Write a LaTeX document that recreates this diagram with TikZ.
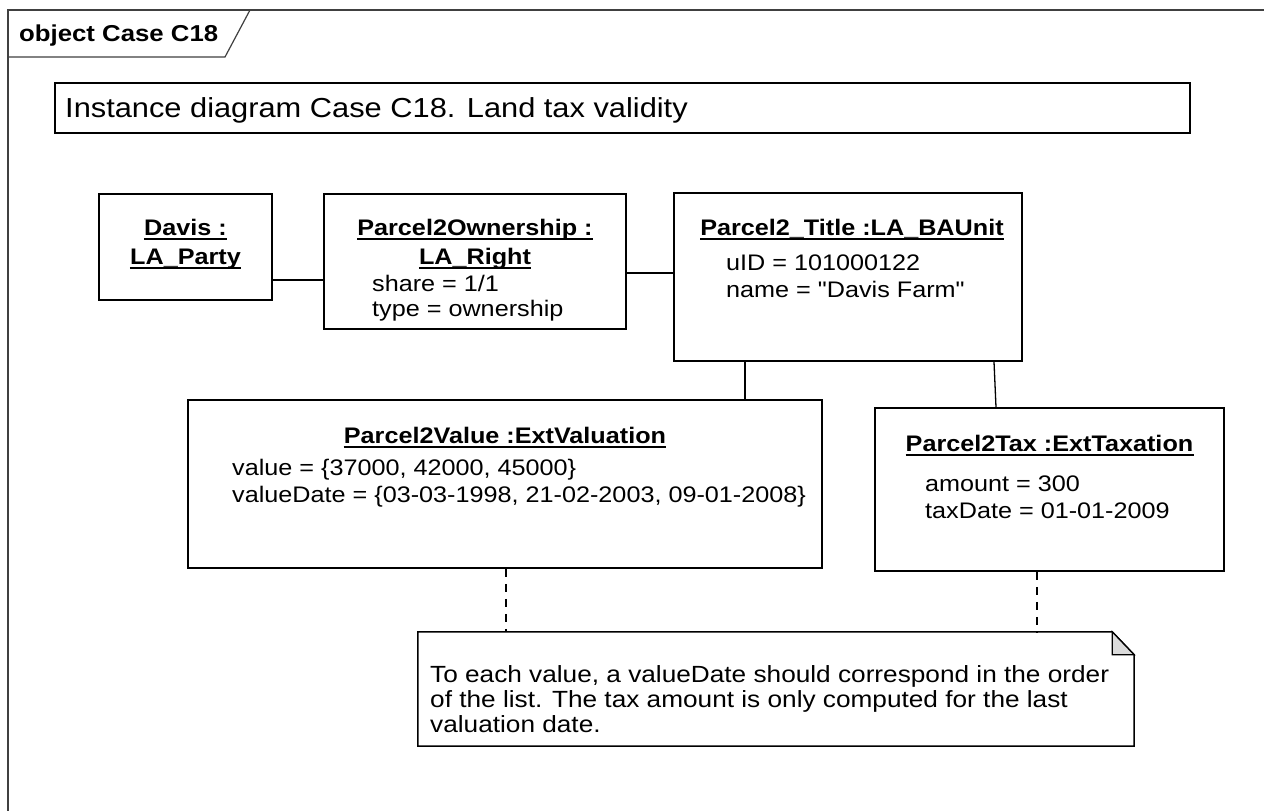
\documentclass[tikz,border=0pt]{standalone}
\usepackage{fontspec}
\setmainfont{Liberation Sans}[FakeStretch=1.12, Ligatures=TeXOff]
\begin{document}
\begin{tikzpicture}[x=1pt,y=-1pt,
  objbox/.style={draw=black, line width=1.5pt, inner sep=0pt, rectangle},
  conn/.style={draw=black, line width=1.3pt},
  notelink/.style={draw=black, line width=1.3pt, dash pattern=on 8pt off 7pt},
  hdr/.style={anchor=base, inner sep=0pt, font=\bfseries\fontsize{22.5}{26}\selectfont},
  attr/.style={anchor=base west, inner sep=0pt, font=\fontsize{22.5}{26}\selectfont},
  notetxt/.style={anchor=base west, inner sep=0pt, font=\fontsize{23.4}{26}\selectfont},
  uline/.style={draw=black, line width=1.4pt}]
\useasboundingbox (0,0) rectangle (1264,811);
\fill[white] (0,0) rectangle (1264,811);

% frame
\draw[line width=1.2pt, draw=black!75] (8,811) -- (8,10) -- (1264,10);
\draw[line width=1.2pt, draw=black!75] (8,57) -- (225,57) -- (250,10);
\node[anchor=base west, inner sep=0pt, font=\bfseries\fontsize{23}{27}\selectfont] (frametitle) at (19,41) {object Case C18};

% diagram title
\node[objbox, line width=1.3pt, minimum width=1135pt, minimum height=50pt] (caption) at (622.5,108) {};
\node[anchor=base west, inner sep=0pt, font=\fontsize{27.5}{30}\selectfont] (captiontext) at (65,117) {Instance diagram Case C18. Land tax validity};

% object boxes
\node[objbox, minimum width=173pt, minimum height=106pt] (davis) at (185.5,247) {};
\node[objbox, minimum width=302pt, minimum height=135pt] (own) at (475,261.5) {};
\node[objbox, minimum width=348pt, minimum height=168pt] (title) at (848,277) {};
\node[objbox, minimum width=634pt, minimum height=168pt] (val) at (505,484) {};
\node[objbox, minimum width=349pt, minimum height=163pt] (tax) at (1049.5,489.5) {};

% box texts
\node[hdr] (d1) at (185.5,235) {Davis :};
\node[hdr] (d2) at (185.5,264) {LA\_Party};
\node[hdr] (o1) at (475,235) {Parcel2Ownership :};
\node[hdr] (o2) at (475,264) {LA\_Right};
\node[attr] (o3) at (372,291) {share = 1/1};
\node[attr] (o4) at (372,316) {type = ownership};
\node[hdr] (t1) at (852,235) {Parcel2\_Title :LA\_BAUnit};
\node[attr] (t2) at (726,270) {uID = 101000122};
\node[attr] (t3) at (726,297) {name = "Davis Farm"};
\node[hdr] (v1) at (505,443) {Parcel2Value :ExtValuation};
\node[attr] (v2) at (232,475) {value = \{37000, 42000, 45000\}};
\node[attr] (v3) at (232,502) {valueDate = \{03-03-1998, 21-02-2003, 09-01-2008\}};
\node[hdr] (x1) at (1049.5,451) {Parcel2Tax :ExtTaxation};
\node[attr] (x2) at (925,491) {amount = 300};
\node[attr] (x3) at (925,518) {taxDate = 01-01-2009};
\foreach \n in {d1,d2,o1,o2,t1,v1,x1}
  \draw[uline] ([yshift=-4pt]\n.base west) -- ([yshift=-4pt]\n.base east);

% note
\node[inner sep=0pt, minimum width=716pt, minimum height=114pt] (note) at (776,689) {};
\draw[line width=1.5pt, fill=white] (note.north west) -- ([xshift=-22pt]note.north east) -- ([yshift=-23pt]note.north east) -- (note.south east) -- (note.south west) -- cycle;
\draw[line width=1.3pt, fill=black!14] ([xshift=-22pt]note.north east) -- ([xshift=-22pt,yshift=-23pt]note.north east) -- ([yshift=-23pt]note.north east) -- cycle;
\node[notetxt] (n1) at (430,682) {To each value, a valueDate should correspond in the order};
\node[notetxt] (n2) at (430,707) {of the list. The tax amount is only computed for the last};
\node[notetxt] (n3) at (430,732) {valuation date.};

% connectors
\draw[conn] (davis.east |- 0,280) -- (own.west |- 0,280);
\draw[conn] (own.east |- 0,273) -- (title.west |- 0,273);
\draw[conn] (title.south -| 745,0) -- (val.north -| 745,0);
\draw[conn] (title.south -| 994,0) -- (tax.north -| 996,0);
\draw[notelink] (val.south -| 506,0) -- (note.north -| 506,0);
\draw[notelink] (tax.south -| 1037,0) -- (note.north -| 1037,0);
\end{tikzpicture}
\end{document}
